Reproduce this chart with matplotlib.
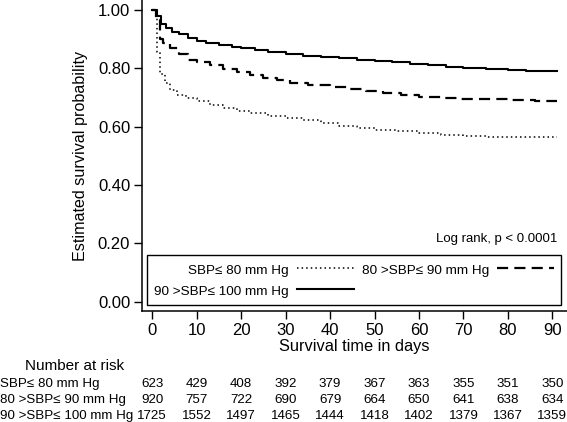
import matplotlib
matplotlib.use("Agg")
import matplotlib.pyplot as plt
from matplotlib.lines import Line2D
from matplotlib.transforms import blended_transform_factory

plt.rcParams['font.family'] = ['Liberation Sans', 'DejaVu Sans']

# KM CURVES (step change points)
t_low = [0, 1.0, 1.7, 2.8, 4, 5.5, 7.5, 10, 13, 16, 19, 22, 26, 30, 34, 38, 42, 46,
         50, 55, 60, 65, 70, 75, 82, 91]
s_low = [1.0, 0.855, 0.78, 0.75, 0.727, 0.71, 0.698, 0.688, 0.675, 0.665, 0.655, 0.647,
         0.638, 0.63, 0.622, 0.612, 0.603, 0.595, 0.59, 0.584, 0.578, 0.572, 0.568,
         0.565, 0.564, 0.564]

t_mid = [0, 0.8, 1.7, 2.5, 4, 6, 8, 10, 13, 16, 19, 22, 25, 28, 31, 35, 40, 44, 48,
         52, 56, 60, 65, 69, 75, 81, 86, 91]
s_mid = [1.0, 0.965, 0.90, 0.888, 0.87, 0.848, 0.83, 0.822, 0.81, 0.797, 0.787, 0.778,
         0.768, 0.76, 0.751, 0.744, 0.737, 0.73, 0.722, 0.715, 0.707, 0.703, 0.699,
         0.695, 0.694, 0.691, 0.689, 0.689]

t_high = [0, 1.1, 2.0, 3.0, 4.5, 6, 8, 10, 12, 15, 18, 20, 23, 26, 30, 34, 38, 42, 46,
          50, 54, 58, 62, 66, 70, 75, 80, 84, 88, 91]
s_high = [1.0, 0.98, 0.952, 0.937, 0.926, 0.918, 0.905, 0.893, 0.887, 0.88, 0.873,
          0.868, 0.863, 0.857, 0.850, 0.843, 0.839, 0.835, 0.830, 0.824, 0.820, 0.815,
          0.812, 0.806, 0.801, 0.797, 0.794, 0.791, 0.789, 0.789]

labels = ['SBP\u2264 80 mm Hg', '80 >SBP\u2264 90 mm Hg', '90 >SBP\u2264 100 mm Hg']

# NUMBER AT RISK
risk_times = [0, 10, 20, 30, 40, 50, 60, 70, 80, 90]
risk_low = [623, 429, 408, 392, 379, 367, 363, 355, 351, 350]
risk_mid = [920, 757, 722, 690, 679, 664, 650, 641, 638, 634]
risk_high = [1725, 1552, 1497, 1465, 1444, 1418, 1402, 1379, 1367, 1359]

fig = plt.figure(figsize=(5.67, 4.22), dpi=100)
ax = fig.add_axes([142 / 567, 1 - 311 / 422, 1 - 142 / 567, 311 / 422])

dot = (0, (1, 2))
dash = (0, (5, 2.8))
ax.step(t_low, s_low, where='post', color='black', lw=1.1, linestyle=dot)
ax.step(t_mid, s_mid, where='post', color='black', lw=1.6, linestyle=dash)
ax.step(t_high, s_high, where='post', color='black', lw=1.5)

ax.set_xlim(-2.32, 93.3)
ax.set_ylim(-0.032, 1.034)
ax.set_xticks(range(0, 91, 10))
ax.set_yticks([0, 0.2, 0.4, 0.6, 0.8, 1.0])
ax.set_yticklabels([f'{v:.2f}' for v in [0, 0.2, 0.4, 0.6, 0.8, 1.0]])
ax.tick_params(direction='out', length=6, width=1, labelsize=12, pad=2.5)
for s in ['top', 'right']:
    ax.spines[s].set_visible(False)
for s in ['left', 'bottom']:
    ax.spines[s].set_linewidth(1.1)

ax.set_xlabel('Survival time in days', fontsize=11.8, labelpad=1)
ax.set_ylabel('Estimated survival probability', fontsize=11.6, labelpad=7)

ax.text(0.978, 0.233, 'Log rank, p < 0.0001', transform=ax.transAxes,
        ha='right', va='center', fontsize=9.5)

handles = [Line2D([], [], color='black', lw=1.1, linestyle=dot),
           Line2D([], [], color='black', lw=1.5),
           Line2D([], [], color='black', lw=1.6, linestyle=dash)]
leg = ax.legend(handles, [labels[0], labels[2], labels[1]], ncol=2, markerfirst=False,
                loc='lower left', bbox_to_anchor=(0.0118, 0.019, 0.974, 0.17),
                mode='expand', fontsize=9.7, handlelength=4.2, handletextpad=0.6,
                borderpad=0.55, labelspacing=0.45, handleheight=1.2, fancybox=False,
                framealpha=1, edgecolor='black', borderaxespad=0)
leg.get_frame().set_linewidth(1.0)

# NUMBER AT RISK TABLE
tr = blended_transform_factory(ax.transData, fig.transFigure)
fig.text(25 / 567, 1 - 366 / 422, 'Number at risk', fontsize=11, va='center')
rows_y = [384, 400, 416]
for lab, counts, yy in zip(labels, [risk_low, risk_mid, risk_high], rows_y):
    fig.text(0.0, 1 - yy / 422, lab, fontsize=9.6, va='center')
    for t, n in zip(risk_times, counts):
        ax.text(t, 1 - yy / 422, str(n), transform=tr, ha='center', va='center',
                fontsize=9.6, clip_on=False)

fig.savefig('out.png', dpi=100)
